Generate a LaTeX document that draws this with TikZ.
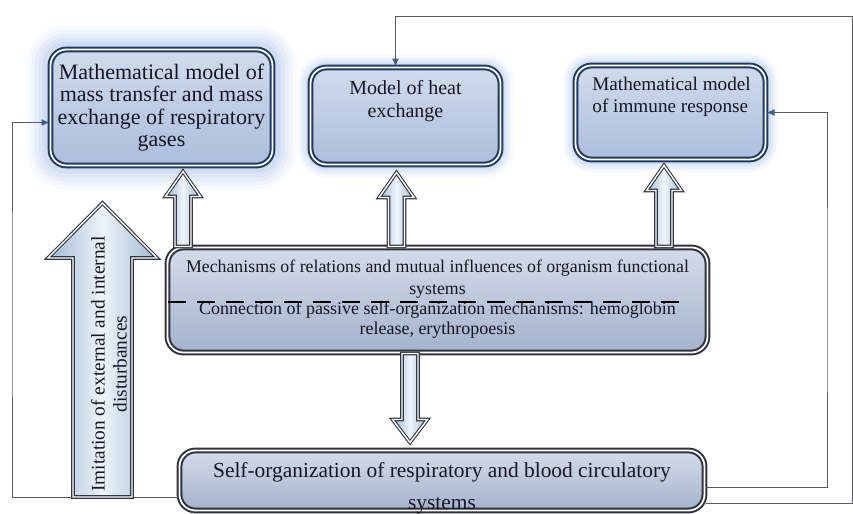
\documentclass[tikz,border=0pt]{standalone}
\usepackage{fontspec}
\setmainfont{Liberation Serif}
\usetikzlibrary{calc,arrows.meta}
\definecolor{navy}{RGB}{31,56,100}
\definecolor{boxtop}{RGB}{208,219,237}
\definecolor{boxbot}{RGB}{172,190,220}
\definecolor{glowc}{RGB}{80,130,210}
\definecolor{mline}{RGB}{45,50,60}
\definecolor{mtop}{RGB}{212,220,234}
\definecolor{mbot}{RGB}{163,178,204}
\definecolor{arrline}{RGB}{50,55,65}
\definecolor{arrside}{RGB}{160,185,212}
\definecolor{arrmid}{RGB}{238,244,250}
\definecolor{linkc}{RGB}{90,90,95}
\definecolor{tipc}{RGB}{60,92,140}
\definecolor{ink}{RGB}{22,22,36}

\tikzset{
  model/.style={draw=navy,line width=1pt,double=white,double distance=.9pt,
    rounded corners=8pt,top color=boxtop,bottom color=boxbot,text=ink,inner sep=0pt},
  mech/.style={model,draw=mline,top color=mtop,bottom color=mbot},
  glow/.style={preaction={draw=glowc,draw opacity=.05,line width=13pt},
    preaction={draw=glowc,draw opacity=.06,line width=10pt},
    preaction={draw=glowc,draw opacity=.07,line width=7.5pt},
    preaction={draw=glowc,draw opacity=.09,line width=5pt}},
  glowbig/.style={preaction={draw=glowc,draw opacity=.04,line width=24pt},
    preaction={draw=glowc,draw opacity=.05,line width=20pt},
    preaction={draw=glowc,draw opacity=.06,line width=16pt},
    preaction={draw=glowc,draw opacity=.07,line width=12pt},
    preaction={draw=glowc,draw opacity=.09,line width=8pt}},
  txt/.style={inner sep=0pt,text=ink},
  link/.style={draw=linkc,line width=.5pt,-{Latex[length=4pt,width=3.5pt,color=tipc]}},
  hollow/.style={draw=arrline,line width=.55pt,double=white,double distance=.7pt,
    left color=arrside,right color=arrside,middle color=arrmid},
  shafthalf/.store in=\shafthalf, headhalf/.store in=\headhalf, headlen/.store in=\headlen,
  shafthalf=4pt, headhalf=8.75pt, headlen=12.5pt
}

% hollow block arrow from #2 to #3
\newcommand\blockarrow[3][]{%
  \begin{scope}[#1]
    \coordinate (ba-s) at (#2);
    \coordinate (ba-e) at (#3);
    \coordinate (ba-h) at ($(ba-e)!\headlen!(ba-s)$);
    \draw[hollow] ($(ba-s)!\shafthalf!90:(ba-e)$) -- ($(ba-h)!\shafthalf!90:(ba-e)$)
      -- ($(ba-h)!\headhalf!90:(ba-e)$) -- (ba-e) -- ($(ba-h)!\headhalf!-90:(ba-e)$)
      -- ($(ba-h)!\shafthalf!-90:(ba-e)$) -- ($(ba-s)!\shafthalf!-90:(ba-e)$) -- cycle;
  \end{scope}}

\begin{document}
\begin{tikzpicture}[x=0.5pt,y=-0.5pt]
  \useasboundingbox (0,0) rectangle (853,514);

  % models
  \node[model,glowbig,minimum width=111pt,minimum height=58pt,align=center,
    font=\fontsize{11}{11.2}\selectfont] (mass) at (161.5,107.5)
    {Mathematical model of\\mass transfer and mass\\exchange of respiratory\\gases};
  \node[model,glow,minimum width=95pt,minimum height=48.5pt] (heat) at (405.5,116) {};
  \node[txt,anchor=north,align=center,font=\fontsize{10}{11.5}\selectfont] (heat-txt)
    at ($(heat.north)+(0,14)$) {Model of heat\\exchange};
  \node[model,glow,minimum width=95pt,minimum height=47pt] (immune) at (670.5,112.5) {};
  \node[txt,anchor=north west,align=left,font=\fontsize{9.6}{11}\selectfont] (immune-txt)
    at ($(immune.north west)+(17.5,12)$) {Mathematical model\\of immune response};

  % mechanisms
  \node[mech,minimum width=270pt,minimum height=52.5pt] (mech) at (437.5,300) {};
  \node[txt,align=center,font=\fontsize{8.9}{11}\selectfont] (mech-a) at ($(mech.center)+(0,-21)$)
    {Mechanisms of relations and mutual influences of organism functional\\systems};
  \node[txt,align=center,font=\fontsize{9}{10}\selectfont] (mech-b) at ($(mech.center)+(0,20)$)
    {Connection of passive self-organization mechanisms: hemoglobin\\release, erythropoesis};
  \draw[line width=1.3pt,dash pattern=on 9pt off 5.5pt] ($(mech.west)+(1,2)$) -- ($(mech.east)+(-22,2)$);

  % self-organization
  \node[mech,minimum width=262.5pt,minimum height=30pt] (self) at (442,480.5) {};
  \node[txt,align=center,font=\fontsize{10.7}{16}\selectfont] (self-txt) at ($(self.center)+(0,7.5)$)
    {Self-organization of respiratory and blood circulatory\\systems};

  % feedback lines
  \coordinate (lft) at (12,300);
  \coordinate (mid) at (827,300);
  \coordinate (rgt) at (852,16);
  \draw[link] ($(self.west)+(0,17)$) -| (lft) |- ($(mass.west)+(0,15)$);
  \draw[link] ($(self.east)+(0,7)$) -| (mid) |- (immune.east);
  \draw[link] ($(self.east)+(0,23)$) -| (rgt) -| ($(heat.north)+(-10,0)$);

  % block arrows
  \coordinate (xa) at (183,0);
  \coordinate (xb) at (396.5,0);
  \coordinate (xc) at (664,0);
  \coordinate (xd) at (410,0);
  \blockarrow{xa |- mech.north}{$(xa |- mass.south)+(0,5)$}
  \blockarrow{xb |- mech.north}{$(xb |- heat.south)+(0,7)$}
  \blockarrow{xc |- mech.north}{$(xc |- immune.south)+(0,5)$}
  \blockarrow[headlen=11.5pt]{xd |- mech.south}{$(xd |- self.north)+(0,-7)$}

  % disturbances
  \coordinate (dist-bot) at (102.5,497);
  \coordinate (dist-top) at (102.5,203);
  \blockarrow[shafthalf=14.75pt,headhalf=27.25pt,headlen=27.5pt]{dist-bot}{dist-top}
  \node[txt,rotate=90,align=center,font=\fontsize{9.66}{11}\selectfont] (dist-txt) at (109,364)
    {Imitation of external and internal\\disturbances};
\end{tikzpicture}
\end{document}
